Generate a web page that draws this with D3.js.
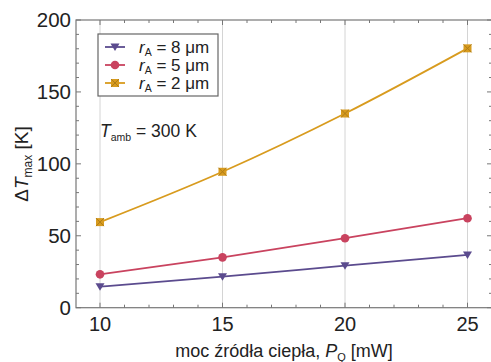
<!DOCTYPE html>
<html><head><meta charset="utf-8">
<script src="https://cdn.jsdelivr.net/npm/d3@7"></script>
<style>
body{margin:0;background:#fff;}
svg{display:block;font-family:"Liberation Sans",Arial,sans-serif;}
</style></head>
<body><svg id="c" width="491" height="362"></svg>
<script>
const powers = [10, 15, 20, 25];
const r8 = [14.6, 21.6, 29.2, 36.7];
const r5 = [23.2, 35.0, 48.3, 62.2];
const r2 = [59.5, 94.5, 135.0, 180.3];
const seriesNames = ["8", "5", "2"];
const xTicks = [10, 15, 20, 25];
const yTicks = [0, 50, 100, 150, 200];

const series = [
  {name: seriesNames[0], values: r8, color: "#5b4b8e", marker: "tri"},
  {name: seriesNames[1], values: r5, color: "#c9435f", marker: "circle"},
  {name: seriesNames[2], values: r2, color: "#d89b1e", marker: "sqx"}
];

const svg = d3.select("#c");
const x = d3.scaleLinear().domain([9.02, 26]).range([76, 492]);
const y = d3.scaleLinear().domain([0, 200]).range([307.7, 20]);
const axisCol = "#777";
const textCol = "#222";

// gridlines
svg.append("g").selectAll("line").data(xTicks).join("line")
  .attr("x1", d => x(d)).attr("x2", d => x(d))
  .attr("y1", y(200)).attr("y2", y(0))
  .attr("stroke", "#d4d4d4").attr("stroke-width", 1);

// frame
const [x0, x1] = x.range(), [y0, y1] = y.range();
svg.append("rect").attr("x", x0).attr("y", y1).attr("width", x1 - x0).attr("height", y0 - y1)
  .attr("fill", "none").attr("stroke", axisCol).attr("stroke-width", 1.2);

// ticks
const xMinor = d3.range(10, 26, 1);
const yMinor = d3.range(0, 201, 10);
function tickLen(isMajor){return isMajor ? 5 : 3;}
const tg = svg.append("g").attr("stroke", axisCol).attr("stroke-width", 1);
xMinor.forEach(v => {
  const L = tickLen(xTicks.includes(v));
  tg.append("line").attr("x1", x(v)).attr("x2", x(v)).attr("y1", y0).attr("y2", y0 - L);
  tg.append("line").attr("x1", x(v)).attr("x2", x(v)).attr("y1", y1).attr("y2", y1 + L);
});
yMinor.forEach(v => {
  const L = tickLen(yTicks.includes(v));
  tg.append("line").attr("x1", x0).attr("x2", x0 + L).attr("y1", y(v)).attr("y2", y(v));
  tg.append("line").attr("x1", x1).attr("x2", x1 - L).attr("y1", y(v)).attr("y2", y(v));
});

// tick labels
svg.append("g").selectAll("text").data(xTicks).join("text")
  .attr("x", d => x(d)).attr("y", 331).attr("text-anchor", "middle")
  .attr("font-size", 20).attr("fill", textCol).text(d => d);
svg.append("g").selectAll("text").data(yTicks).join("text")
  .attr("x", 71).attr("y", d => y(d) + 7).attr("text-anchor", "end")
  .attr("font-size", 20.5).attr("fill", textCol).text(d => d);

// axis titles
const xt = svg.append("text").attr("x", 284).attr("y", 357).attr("text-anchor", "middle")
  .attr("font-size", 18).attr("fill", textCol);
xt.append("tspan").text("moc źródła ciepła, ");
xt.append("tspan").attr("font-style", "italic").text("P");
xt.append("tspan").attr("font-size", 11).attr("dy", 3.5).text("Q");
xt.append("tspan").attr("dy", -3.5).text(" [mW]");

const yt = svg.append("text").attr("transform", "translate(28,164) rotate(-90)")
  .attr("text-anchor", "middle").attr("font-size", 19).attr("fill", textCol);
yt.append("tspan").text("Δ");
yt.append("tspan").attr("font-style", "italic").text("T");
yt.append("tspan").attr("font-size", 12).attr("dy", 4).text("max");
yt.append("tspan").attr("dy", -4).text(" [K]");

// markers
function drawMarker(g, m, cx, cy, color){
  if (m === "tri") {
    g.append("path").attr("d", `M${cx-4.5},${cy-3.5}L${cx+4.5},${cy-3.5}L${cx},${cy+4}Z`).attr("fill", color);
  } else if (m === "circle") {
    g.append("circle").attr("cx", cx).attr("cy", cy).attr("r", 4.3).attr("fill", color);
  } else {
    g.append("rect").attr("x", cx-4).attr("y", cy-4).attr("width", 8).attr("height", 8).attr("fill", color);
    g.append("path").attr("d", `M${cx-4},${cy-4}L${cx+4},${cy+4}M${cx+4},${cy-4}L${cx-4},${cy+4}`)
      .attr("stroke", d3.color(color).darker(0.6)).attr("stroke-width", 1);
  }
}

const line = d3.line().x((d, i) => x(powers[i])).y(d => y(d)).curve(d3.curveMonotoneX);
series.forEach(s => {
  svg.append("path").datum(s.values).attr("d", line)
    .attr("fill", "none").attr("stroke", s.color).attr("stroke-width", 1.8);
  const g = svg.append("g");
  s.values.forEach((v, i) => drawMarker(g, s.marker, x(powers[i]), y(v), s.color));
});

// legend
const lg = svg.append("g");
lg.append("rect").attr("x", 98).attr("y", 34).attr("width", 120).attr("height", 62)
  .attr("fill", "#fff").attr("stroke", "#666").attr("stroke-width", 1.2);
series.forEach((s, i) => {
  const cy = 47 + i * 18;
  lg.append("line").attr("x1", 105).attr("x2", 125).attr("y1", cy).attr("y2", cy)
    .attr("stroke", s.color).attr("stroke-width", 1.8);
  drawMarker(lg, s.marker, 115, cy, s.color);
  const t = lg.append("text").attr("x", 139).attr("y", cy + 6).attr("font-size", 17).attr("fill", textCol);
  t.append("tspan").attr("font-style", "italic").text("r");
  t.append("tspan").attr("font-size", 10.5).attr("dy", 3).text("A");
  t.append("tspan").attr("dy", -3).text(" = " + s.name + " μm");
});

// annotation
const ta = svg.append("text").attr("x", 100).attr("y", 137).attr("font-size", 17.5).attr("fill", textCol);
ta.append("tspan").attr("font-style", "italic").text("T");
ta.append("tspan").attr("font-size", 10.5).attr("dy", 3.5).text("amb");
ta.append("tspan").attr("dy", -3.5).text(" = 300 K");
</script></body></html>
